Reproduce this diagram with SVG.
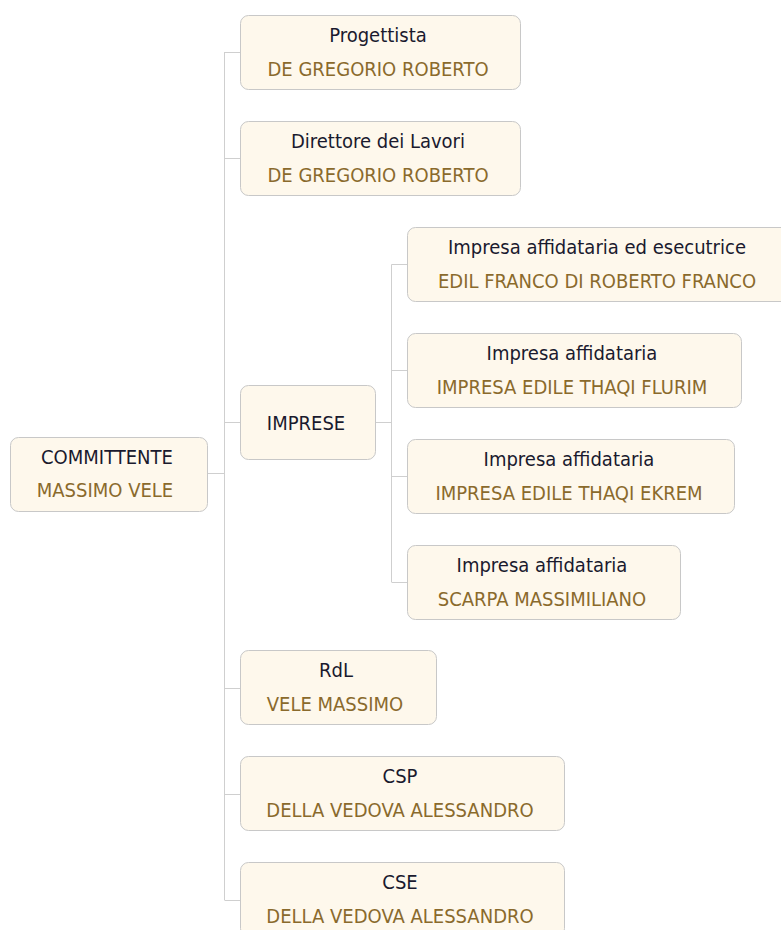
<svg xmlns="http://www.w3.org/2000/svg" width="781" height="930" viewBox="0 0 781 930">
<style>
.box{fill:#fef8ec;stroke:#c8c8c8;stroke-width:1}
.t{font-family:"DejaVu Sans Condensed","DejaVu Sans",sans-serif;font-stretch:condensed;font-size:20px;fill:#1a1a2e;text-anchor:middle}
.s{font-family:"DejaVu Sans Condensed","DejaVu Sans",sans-serif;font-stretch:condensed;font-size:20px;fill:#8a6a2c;text-anchor:middle}
.c{stroke:#cfcfcf;stroke-width:1;fill:none}
</style>
<rect width="781" height="930" fill="#ffffff"/>
<g id="connectors">
<path class="c" d="M224.5 52V900M208 473.5H224.5M224.5 52.5H240M224.5 158.5H240M224.5 422.5H240M224.5 688.5H240M224.5 794.5H240M224.5 900.5H240"/>
<path class="c" d="M376 422.5H391.5M391.5 264.5V582M391.5 264.5H407M391.5 370.5H407M391.5 476.5H407M391.5 582.5H407"/>
</g>
<g id="committente"><rect class="box" x="10.5" y="437.5" width="197" height="74" rx="8"/><text class="t" x="107" y="464">COMMITTENTE</text><text class="s" x="105" y="497">MASSIMO VELE</text></g>
<g id="progettista"><rect class="box" x="240.5" y="15.5" width="280" height="74" rx="8"/><text class="t" x="378" y="42">Progettista</text><text class="s" x="378" y="75.5">DE GREGORIO ROBERTO</text></g>
<g id="direttore"><rect class="box" x="240.5" y="121.5" width="280" height="74" rx="8"/><text class="t" x="378" y="148">Direttore dei Lavori</text><text class="s" x="378" y="181.5">DE GREGORIO ROBERTO</text></g>
<g id="imprese"><rect class="box" x="240.5" y="385.5" width="135" height="74" rx="8"/><text class="t" x="306" y="430">IMPRESE</text></g>
<g id="impresa1"><rect class="box" x="407.5" y="227.5" width="385" height="74" rx="8"/><text class="t" x="597" y="254">Impresa affidataria ed esecutrice</text><text class="s" x="597" y="287.5">EDIL FRANCO DI ROBERTO FRANCO</text></g>
<g id="impresa2"><rect class="box" x="407.5" y="333.5" width="334" height="74" rx="8"/><text class="t" x="572" y="360">Impresa affidataria</text><text class="s" x="572" y="393.5">IMPRESA EDILE THAQI FLURIM</text></g>
<g id="impresa3"><rect class="box" x="407.5" y="439.5" width="327" height="74" rx="8"/><text class="t" x="569" y="466">Impresa affidataria</text><text class="s" x="569" y="499.5">IMPRESA EDILE THAQI EKREM</text></g>
<g id="impresa4"><rect class="box" x="407.5" y="545.5" width="273" height="74" rx="8"/><text class="t" x="542" y="572">Impresa affidataria</text><text class="s" x="542" y="605.5">SCARPA MASSIMILIANO</text></g>
<g id="rdl"><rect class="box" x="240.5" y="650.5" width="196" height="74" rx="8"/><text class="t" x="336" y="677">RdL</text><text class="s" x="335" y="710.5">VELE MASSIMO</text></g>
<g id="csp"><rect class="box" x="240.5" y="756.5" width="324" height="74" rx="8"/><text class="t" x="400" y="783">CSP</text><text class="s" x="400" y="816.5">DELLA VEDOVA ALESSANDRO</text></g>
<g id="cse"><rect class="box" x="240.5" y="862.5" width="324" height="74" rx="8"/><text class="t" x="400" y="889">CSE</text><text class="s" x="400" y="922.5">DELLA VEDOVA ALESSANDRO</text></g>
</svg>
